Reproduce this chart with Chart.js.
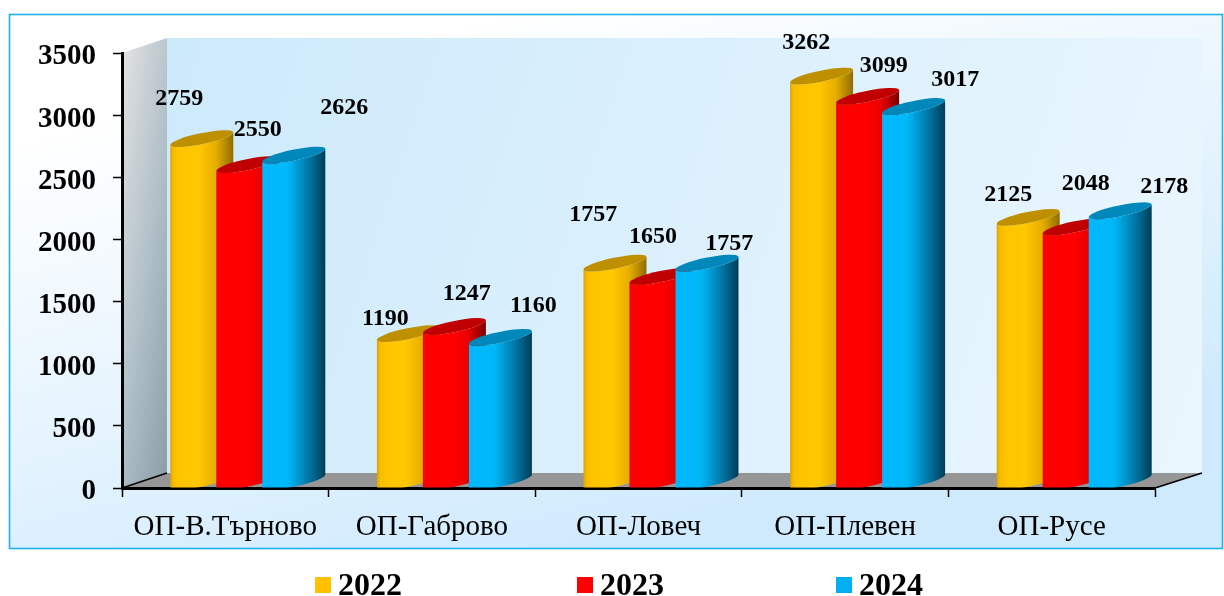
<!DOCTYPE html>
<html><head><meta charset="utf-8">
<style>html,body{margin:0;padding:0;background:#fff}#w{width:1224px;height:596px}canvas{display:block}</style>
<script src="https://cdn.jsdelivr.net/npm/chart.js@4"></script></head>
<body><div id="w"><canvas id="c" width="1224" height="596"></canvas></div>
<script>
const categories = ['ОП-В.Търново','ОП-Габрово','ОП-Ловеч','ОП-Плевен','ОП-Русе'];
const values2022 = [2759,1190,1757,3262,2125];
const values2023 = [2550,1247,1650,3099,2048];
const values2024 = [2626,1160,1757,3017,2178];
const seriesNames = ['2022','2023','2024'];
const seriesColors = ['#FFC000','#FF0000','#00B0F0'];
// hand placement of the value labels relative to each cylinder, as in the reference [dx,dy]
const labelNudge = [
 [[-22.5,-46],[-23,-21],[-21.7,-55],[-15.3,-40],[-20,-29]],
 [[10,-41],[12.4,-39],[-8,-46],[16.2,-37],[11.6,-50]],
 [[50.5,-54],[33,-38],[22.3,-26],[41.7,-33],[44,-31]]
];
const legendBoxX = [315,577,836];
const SERIF = '"Liberation Serif","Times New Roman",serif';
const DX = 45, DY = -15, DXR = 47; // depth of the 3D box (left and right corners)
const CW = 63, CH = 13, CB = 5.5;  // cylinder tilt extent / cap minor radius
const SHIFT = 14;
const shades = [
 {cap:'#BE9000',stops:[[0,'#D8A400'],[.05,'#F8BC00'],[.15,'#FFC400'],[.45,'#FFC800'],[.72,'#E8AE00'],[1,'#8E6C00']]},
 {cap:'#C00000',stops:[[0,'#F00000'],[.05,'#FF0000'],[.5,'#FF0000'],[.72,'#E80000'],[1,'#7A0000']]},
 {cap:'#0088BB',stops:[[0,'#00B8FF'],[.4,'#00B8F8'],[.65,'#0088BC'],[.85,'#005E84'],[1,'#003C56']]}
];

function cylinder(ctx, x0, top, base, sh){
  const th = Math.atan2(-CH, CW), a = Math.hypot(CW, CH)/2, cx = x0 + CW/2;
  const g = ctx.createLinearGradient(x0,0,x0+CW,0);
  sh.stops.forEach(s=>g.addColorStop(s[0],s[1]));
  ctx.save();
  ctx.beginPath(); ctx.rect(x0-2,0,CW+4,base); ctx.clip();
  ctx.beginPath();
  ctx.moveTo(x0,top);
  ctx.lineTo(x0,base);
  ctx.ellipse(cx,base-CH/2,a,CB,th,Math.PI,0,true);
  ctx.lineTo(x0+CW,top-CH);
  ctx.ellipse(cx,top-CH/2,a,CB,th,0,Math.PI,false);
  ctx.closePath();
  ctx.fillStyle = g; ctx.fill();
  ctx.beginPath();
  ctx.ellipse(cx,top-CH/2,a,CB,th,0,Math.PI*2);
  ctx.fillStyle = sh.cap; ctx.fill();
  ctx.restore();
}

const box3d = {
  id:'box3d',
  beforeDraw(chart){
    const ctx = chart.ctx, A = chart.chartArea;
    const P = {x:9.5,y:14.5,w:1213,h:534};
    const bg = ctx.createLinearGradient(500,P.y,640,P.y+P.h);
    bg.addColorStop(0,'#FFFFFF'); bg.addColorStop(1,'#CFEAFD');
    ctx.save();
    ctx.fillStyle = bg; ctx.fillRect(P.x,P.y,P.w,P.h);
    ctx.strokeStyle = '#1FB2EA'; ctx.lineWidth = 1.6; ctx.strokeRect(P.x,P.y,P.w,P.h);
    // back wall
    const bw = ctx.createLinearGradient(A.left+DX,A.top,A.right+DXR,A.bottom-100);
    bw.addColorStop(0,'#CDEAFB'); bw.addColorStop(1,'#EAF6FE');
    ctx.fillStyle = bw; ctx.fillRect(A.left+DX,A.top+DY,A.right+DXR-A.left-DX,A.height);
    // left wall
    const lw = ctx.createLinearGradient(A.left,A.top,A.left+126,A.top+18);
    lw.addColorStop(0,'#E2E2E2'); lw.addColorStop(.5,'#A9BAC4'); lw.addColorStop(1,'#7E8E98');
    ctx.fillStyle = lw;
    ctx.beginPath();
    ctx.moveTo(A.left,A.top); ctx.lineTo(A.left+DX,A.top+DY); ctx.lineTo(A.left+DX,A.bottom+DY); ctx.lineTo(A.left,A.bottom);
    ctx.closePath(); ctx.fill();
    // floor
    ctx.fillStyle = '#969696';
    ctx.beginPath();
    ctx.moveTo(A.left,A.bottom); ctx.lineTo(A.left+DX,A.bottom+DY); ctx.lineTo(A.right+DXR,A.bottom+DY); ctx.lineTo(A.right,A.bottom);
    ctx.closePath(); ctx.fill();
    ctx.strokeStyle = '#000'; ctx.lineWidth = 1.5;
    ctx.beginPath(); ctx.moveTo(A.left,A.bottom); ctx.lineTo(A.left+DX,A.bottom+DY);
    ctx.moveTo(A.right,A.bottom); ctx.lineTo(A.right+DXR,A.bottom+DY); ctx.stroke();
    ctx.restore();
  },
  beforeDatasetsDraw(chart){
    const ctx = chart.ctx;
    chart.data.datasets.forEach((ds,i)=>{
      chart.getDatasetMeta(i).data.forEach(b=>{
        cylinder(ctx, b.x - b.width/2 + SHIFT, b.y, b.base, shades[i]);
      });
    });
    ctx.save();
    ctx.font = 'bold 24px '+SERIF; ctx.fillStyle='#000'; ctx.textAlign='center'; ctx.textBaseline='middle';
    chart.data.datasets.forEach((ds,i)=>{
      chart.getDatasetMeta(i).data.forEach((b,j)=>{
        const n = labelNudge[i][j];
        ctx.fillText(String(ds.data[j]), b.x - b.width/2 + SHIFT + CW/2 + n[0], b.y + n[1]);
      });
    });
    ctx.restore();
    return false;
  },
  afterDraw(chart){
    const ctx = chart.ctx;
    ctx.save();
    ctx.font = 'bold 32px '+SERIF; ctx.textAlign='left'; ctx.textBaseline='middle';
    chart.data.datasets.forEach((ds,i)=>{
      ctx.fillStyle = ds.backgroundColor;
      ctx.fillRect(legendBoxX[i],577,16,16);
      ctx.fillStyle = '#000';
      ctx.fillText(ds.label, legendBoxX[i]+23, 587);
    });
    ctx.restore();
  }
};

new Chart(document.getElementById('c'),{
  type:'bar',
  data:{labels:categories,datasets:[
    {label:seriesNames[0],data:values2022,backgroundColor:seriesColors[0]},
    {label:seriesNames[1],data:values2023,backgroundColor:seriesColors[1]},
    {label:seriesNames[2],data:values2024,backgroundColor:seriesColors[2]}
  ]},
  plugins:[box3d],
  options:{
    responsive:false,animation:false,
    categoryPercentage:.668,barPercentage:1,
    layout:{padding:{left:0,right:69,top:53,bottom:0}},
    scales:{
      x:{
        grid:{drawOnChartArea:false,tickColor:'#000',tickLength:9,offset:true,tickWidth:1.5},
        border:{color:'#000',width:3},
        ticks:{font:{family:SERIF,size:29},color:'#000',padding:13,maxRotation:0,autoSkip:false},
        afterFit(s){s.height=108;}
      },
      y:{
        min:0,max:3500,
        grid:{drawOnChartArea:false,tickColor:'#000',tickLength:9,tickWidth:1.5},
        border:{color:'#000',width:3},
        ticks:{stepSize:500,callback:v=>String(v),font:{family:SERIF,size:29,weight:'bold'},color:'#000',padding:17,labelOffset:4},
        afterFit(s){s.width=122;}
      }
    },
    plugins:{tooltip:{enabled:false},legend:{display:false}}
  }
});
</script></body></html>
